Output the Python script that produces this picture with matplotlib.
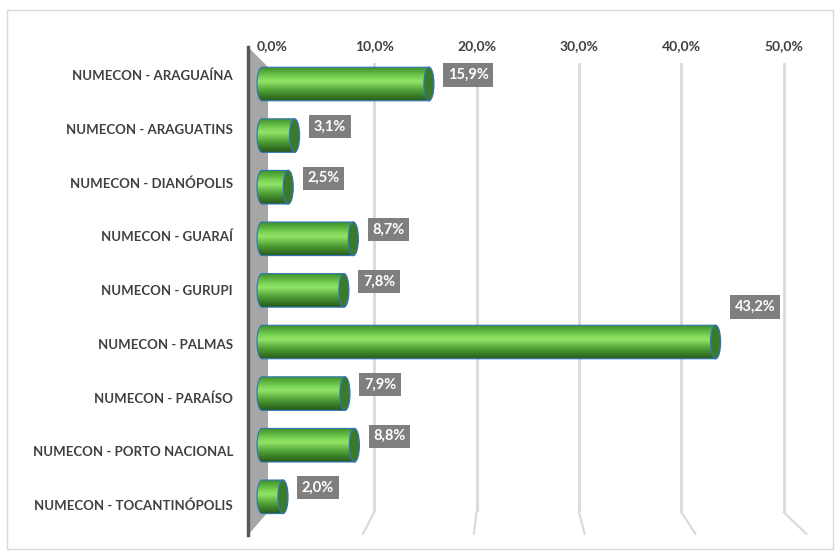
import numpy as np
import matplotlib
matplotlib.use('Agg')
import matplotlib.pyplot as plt
from matplotlib.colors import LinearSegmentedColormap
from matplotlib.patches import Ellipse, Polygon, Rectangle
from matplotlib.path import Path
from matplotlib.transforms import blended_transform_factory, ScaledTranslation

plt.rcParams['font.family'] = ['Lato', 'DejaVu Sans']

# Data
categories = ['NUMECON - ARAGUAÍNA', 'NUMECON - ARAGUATINS', 'NUMECON - DIANÓPOLIS',
              'NUMECON - GUARAÍ', 'NUMECON - GURUPI', 'NUMECON - PALMAS',
              'NUMECON - PARAÍSO', 'NUMECON - PORTO NACIONAL', 'NUMECON - TOCANTINÓPOLIS']
values = [15.9, 3.1, 2.5, 8.7, 7.8, 43.2, 7.9, 8.8, 2.0]
ticks = [0, 10, 20, 30, 40, 50]

W, H = 835, 551
fig = plt.figure(figsize=(W / 100, H / 100), dpi=100)

# chart border
fig.patches.append(Rectangle((7 / W, 2 / H), 826 / W, 539 / H, transform=fig.transFigure,
                             fill=False, ec='#d9d9d9', lw=1))

# back axes: gridlines, ticks, category labels
gx0, gscale, gtop, gbot = 272, 10.23, 63, 512
xmax = 54
ax = fig.add_axes([gx0 / W, (H - gbot) / H, xmax * gscale / W, (gbot - gtop) / H])
ax.set_xlim(0, xmax)
ax.set_ylim(8.13, -0.223)
ax.xaxis.tick_top()
ax.set_xticks(ticks)
ax.set_xticklabels([f'{t:.1f}%'.replace('.', ',') for t in ticks],
                   fontsize=10, fontweight='bold', color='#404040')
ax.set_yticks(range(len(categories)))
ax.set_yticklabels(categories, fontsize=9.5, fontweight='bold', color='#404040')
ax.tick_params(length=0)
ax.tick_params(axis='x', pad=8)
ax.tick_params(axis='y', pad=28)
for s in ax.spines.values():
    s.set_visible(False)
ax.patch.set_alpha(0)

trans = blended_transform_factory(ax.transData, ax.transAxes)
for t in ticks[1:]:
    ax.plot([t, t], [0, 1], transform=trans, color='#d9d9d9', lw=2, zorder=1)
    # floor perspective segment
    dx = -20 + 0.86 * t
    off = ScaledTranslation(dx / 100, -22 / 100, fig.dpi_scale_trans)
    ax.annotate('', xy=(t, 0), xycoords=trans,
                xytext=(t, 0), textcoords=trans + off,
                arrowprops=dict(arrowstyle='-', color='#d9d9d9', lw=1.5,
                                shrinkA=0, shrinkB=0))

# left wall
def pt(dx, dy, yax):
    return (trans + ScaledTranslation(dx / 100, dy / 100, fig.dpi_scale_trans)).transform((0, yax))

inv = fig.transFigure.inverted()
wall = inv.transform(np.array([pt(-24, 16, 1), pt(-4, -4, 1), pt(-4, 0, 0), pt(-24, -23, 0)]))
ax.add_artist(Polygon(wall, closed=True, transform=fig.transFigure, clip_on=False,
                      fc='#a6a6a6', ec='none', zorder=2))
ax.add_artist(plt.Line2D([wall[0][0], wall[3][0]], [wall[0][1], wall[3][1]],
                         transform=fig.transFigure, clip_on=False, color='#595959',
                         lw=2.5, zorder=3))

# front axes: cylinder bars
bx0, bscale, btop, bbot = 262, 10.5, 58.2, 522.6
xmin = -1
bx = fig.add_axes([(bx0 + xmin * bscale) / W, (H - bbot) / H,
                   (xmax - xmin) * bscale / W, (bbot - btop) / H])
bx.patch.set_alpha(0)
bx.set_axis_off()

cmap = LinearSegmentedColormap.from_list('cyl', [
    (0.0, '#3f8f2a'), (0.3, '#7ad454'), (0.42, '#92e468'),
    (0.7, '#4e9f35'), (1.0, '#285a1a')])
grad = np.linspace(0, 1, 64).reshape(-1, 1)
h = 0.65
cw = 0.95  # cap width in data units
th = np.linspace(np.pi / 2, 3 * np.pi / 2, 30)
for i, v in enumerate(values):
    top, bot = i - h / 2, i + h / 2
    verts = np.vstack([[[v, top]], np.column_stack([cw / 2 * np.cos(th), i - h / 2 * np.sin(th)]),
                       [[v, bot]], [[v, top]]])
    im = bx.imshow(grad, cmap=cmap, aspect='auto', origin='upper',
                   extent=(-cw / 2, v, bot, top), zorder=2)
    im.set_clip_path(Path(verts, closed=True), transform=bx.transData)
    bx.plot(verts[:-1, 0], verts[:-1, 1], color='#2e75b6', lw=0.8, zorder=3)
    bx.add_patch(Ellipse((v, i), cw, h, fc='#3b7a28', ec='#2e75b6', lw=0.9, zorder=4))
    dy = 35 if v == max(values) else 9
    bx.annotate(f'{v:.1f}%'.replace('.', ','), xy=(v, i), xytext=(19, dy),
                textcoords='offset pixels', ha='left', va='center',
                fontsize=10.5, fontweight='bold', color='white', zorder=5,
                bbox=dict(boxstyle='square,pad=0.32', fc='#7f7f7f', ec='none'))

bx.set_xlim(xmin, xmax)
bx.set_ylim(len(values) - 0.5, -0.5)

fig.savefig('out.png', dpi=100)
